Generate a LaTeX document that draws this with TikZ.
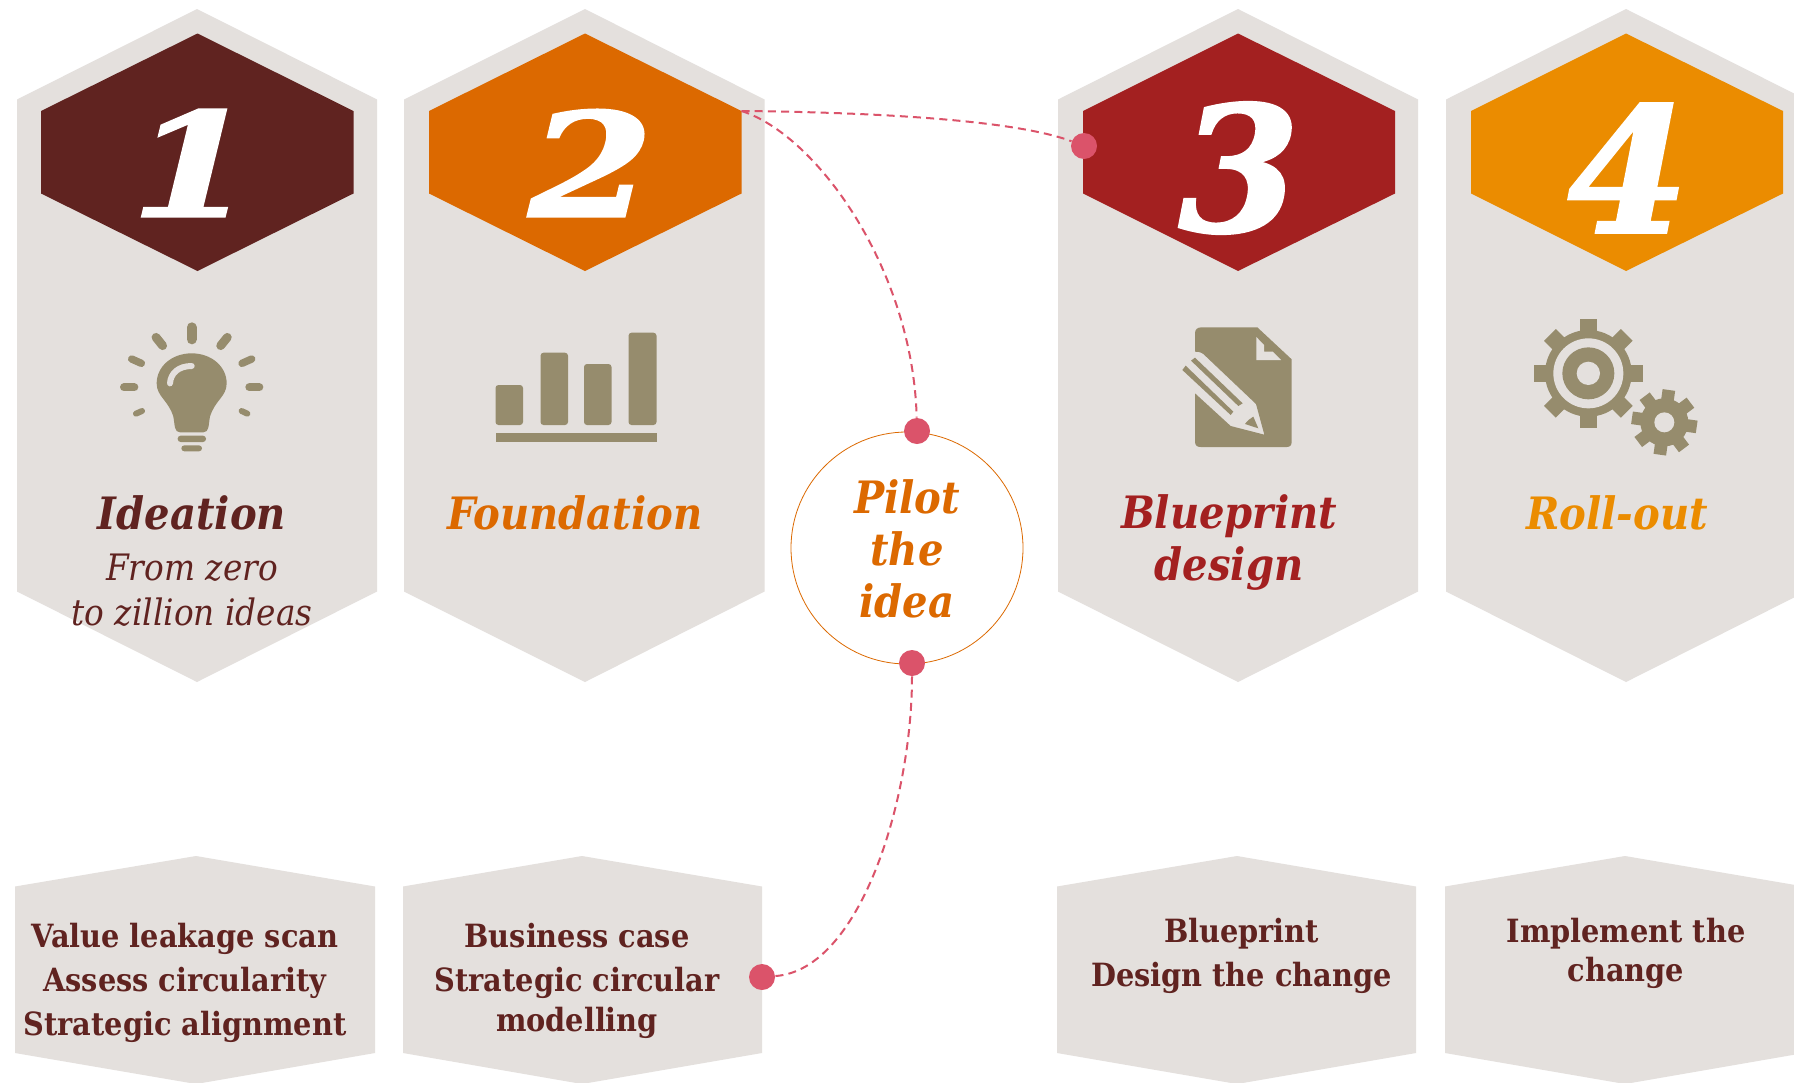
\documentclass[tikz,border=0pt]{standalone}
\usepackage{fontspec}
\setmainfont{DejaVu Serif Condensed}
\newfontfamily\geo{DejaVu Serif Condensed}
\newfontfamily\digA[FakeStretch=1.25,FakeBold=1.5]{DejaVu Serif}
\newfontfamily\digB[FakeStretch=1.0,FakeBold=1.5]{DejaVu Serif}
\definecolor{maroon}{HTML}{602320}
\definecolor{burnt}{HTML}{DC6900}
\definecolor{brick}{HTML}{A32020}
\definecolor{amber}{HTML}{EB8C00}
\definecolor{panelgray}{HTML}{E4E0DD}
\definecolor{icon}{HTML}{968C6D}
\definecolor{pinkdot}{HTML}{DB536A}
\newcommand{\fs}[2]{\fontsize{#1}{#2}\selectfont}
\newcommand{\tallpanel}[3]{\fill[panelgray] (#1,99.5) -- (#2,9) -- (#3,99.5) -- (#3,591.5) -- (#2,682) -- (#1,591.5) -- cycle;}
\newcommand{\hexa}[4]{\fill[#4] (#1,111) -- (#2,33.5) -- (#3,111) -- (#3,193.5) -- (#2,271) -- (#1,193.5) -- cycle;}
\newcommand{\lowpanel}[3]{\fill[panelgray] (#1,886.5) -- (#2,856) -- (#3,886.5) -- (#3,1053) -- (#2,1084) -- (#1,1053) -- cycle;}
\newcommand{\gear}[7]{% cx cy rot bodyR toothR halfW teeth
  \fill[icon] (#1,#2) circle (#4);
  \foreach \a in {0,45,...,315}{
    \fill[icon,rotate around={\a+#3:(#1,#2)}] (#1-#6,#2) rectangle (#1+#6,#2-#5);
  }}
\tikzset{
  digit/.style={text=white,inner sep=0pt},
  title/.style={inner sep=0pt,align=center,font=\geo\bfseries\itshape\fs{22.3}{26}},
  sub/.style={inner sep=0pt,align=center,text=maroon,font=\geo\itshape\fs{18.2}{22.2}},
  lowtext/.style={inner sep=0pt,align=center,text=maroon,font=\geo\bfseries\fs{16}{22}},
  dot/.style={circle,fill=pinkdot,minimum size=13pt,inner sep=0pt},
  link/.style={draw=pinkdot,line width=1pt,dash pattern=on 4pt off 2.6pt},
  iconscope/.style={x=0.16667pt,y=-0.16667pt}
}
\begin{document}
\begin{tikzpicture}[x=0.5pt,y=-0.5pt]
\clip (0,0) rectangle (1794,1082);
\fill[white] (0,0) rectangle (1794,1082);
% tall panels
\tallpanel{17}{197}{377}
\tallpanel{404}{585}{764.5}
\tallpanel{1058}{1238}{1418}
\tallpanel{1446}{1626}{1806}
% hexagons
\hexa{41}{197.5}{353.5}{maroon}
\hexa{429}{585}{741.5}{burnt}
\hexa{1083}{1238}{1395}{brick}
\hexa{1471}{1626}{1783}{amber}
% digits
\node[digit,font=\digA\bfseries\itshape\fs{72}{72}] (n1) at (193,163) {1};
\node[digit,font=\digA\bfseries\itshape\fs{72}{72}] (n2) at (591,163) {2};
\node[digit,font=\digB\bfseries\itshape\fs{87}{87}] (n3) at (1239,168) {3};
\node[digit,font=\digB\bfseries\itshape\fs{87}{87}] (n4) at (1628,168) {4};
% low panels
\lowpanel{15}{196}{375}
\lowpanel{403}{582}{762}
\lowpanel{1057}{1237}{1416}
\lowpanel{1445}{1625}{1804}
% titles
\node[title,text=maroon] (t1) at (192,513) {Ideation};
\node[sub] (s1) at (192,590) {From zero\\to zillion ideas};
\node[title,text=burnt] (t2) at (575,513) {Foundation};
\node[title,text=brick] (t3) at (1229,543) {Blueprint\\design};
\node[title,text=amber] (t4) at (1617,513) {Roll-out};
% low texts
\node[lowtext] (l1) at (185,983) {Value leakage scan\\Assess circularity\\Strategic alignment};
\node[lowtext] (l2) at (577,981) {Business case\\Strategic circular\\[-2pt]modelling};
\node[lowtext] (l3) at (1241.5,955.5) {Blueprint\\Design the change};
\node[lowtext] (l4) at (1626,953) {Implement the\\[-2.5pt]change};
% pilot circle
\node[circle,draw=burnt,line width=0.4pt,fill=white,minimum size=116pt,inner sep=0pt] (pc) at (907,548) {};
\node[title,text=burnt] (pt) at (907,549) {Pilot\\the\\idea};
% connectors
\coordinate (s2) at (741.5,111);
\node[dot] (dt) at (917,431) {};
\node[dot] (db) at (912,663) {};
\node[dot] (d3) at (1084,146) {};
\node[dot] (d2) at (762,977) {};
\draw[link] (s2) .. controls (817,135) and (913,270) .. (dt);
\draw[link] (s2) .. controls (850,112) and (1010,118) .. (d3);
\draw[link] (db) .. controls (912,800) and (860,970) .. (d2);
% bulb icon
\begin{scope}[shift={(100,300)},iconscope]
\foreach \xa/\ya/\xb/\yb/\w in {275/82/275/118/5, 168/112/188/137/4.4, 382/112/362/137/4.4, 95/177/124/190/3.7, 455/177/426/190/3.7, 72/262/103/262/4, 448/262/478/262/4, 108/341/126/333/3, 442/341/425/333/3}
  \draw[icon,line cap=round,line width=\w pt] (\xa,\ya) -- (\xb,\yb);
\fill[icon] (275,160) .. controls (335,160) and (380,200) .. (380,250) .. controls (380,290) and (345,300) .. (330,350) .. controls (325,375) and (328,397) .. (310,397) -- (240,397) .. controls (222,397) and (225,375) .. (220,350) .. controls (205,300) and (170,290) .. (170,250) .. controls (170,200) and (215,160) .. (275,160) -- cycle;
\draw[panelgray,line cap=round,line width=3pt] (210,250) .. controls (212,220) and (235,198) .. (275,198);
\fill[icon,rounded corners=1.5pt] (233,407) rectangle (318,426);
\fill[icon,rounded corners=1.5pt] (244,436) rectangle (306,454);
\end{scope}
% bar chart icon
\fill[icon,rounded corners=1.5pt] (495.5,385) rectangle (523,425);
\fill[icon,rounded corners=1.5pt] (540.5,352.7) rectangle (568,425);
\fill[icon,rounded corners=1.5pt] (584,364) rectangle (611.5,425);
\fill[icon,rounded corners=1.5pt] (628.5,332.7) rectangle (656.5,425);
\fill[icon] (495.5,433) rectangle (656.5,441.5);
% document icon
\begin{scope}[shift={(1140,300)},iconscope]
\fill[icon] (165,100) .. controls (165,88) and (172,82) .. (185,82) -- (352,82) -- (455,178) -- (455,425) .. controls (455,436) and (450,441) .. (440,441) -- (182,441) .. controls (171,441) and (165,436) .. (165,425) -- (165,280) -- (272,378) -- (373,404) -- (348,312) -- (190,162) .. controls (180,155) and (172,155) .. (165,155) -- cycle;
\fill[icon] (153,182) -- (165,173) -- (308,310) -- (295,318) -- cycle;
\fill[icon] (127,210) -- (137,197) -- (280,335) -- (272,345) -- cycle;
\fill[icon] (315,372) .. controls (322,362) and (330,355) .. (340,350) -- (355,385) -- cycle;
\fill[panelgray] (349,111) -- (349,180) -- (423,180) -- (398,155) -- (372,155) -- (372,135) -- cycle;
\end{scope}
% gears icon
\begin{scope}[shift={(1510,300)},iconscope]
\gear{235}{220}{0}{130}{163}{25}{8}
\fill[panelgray] (235,220) circle (105);
\fill[icon] (235,220) circle (78);
\fill[panelgray] (235,220) circle (35);
\gear{463}{367}{-8}{72}{98}{19}{8}
\fill[panelgray] (463,367) circle (30);
\end{scope}
\end{tikzpicture}
\end{document}
